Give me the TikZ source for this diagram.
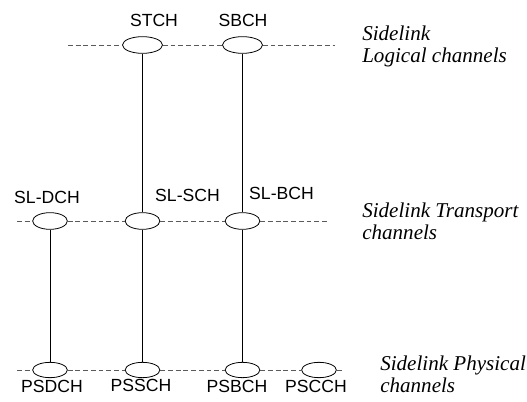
\documentclass[tikz,border=0pt]{standalone}
\usepackage{fontspec}
\setmainfont{Liberation Serif}
\setsansfont{Liberation Sans}
\usepackage{tikz}
\usetikzlibrary{positioning,shapes.geometric}
\definecolor{dashcolor}{RGB}{90,90,90}
\tikzset{
    channel/.style={ellipse, draw=black, line width=0.6pt, inner sep=0pt, fill=white},
    logical channel/.style={channel, minimum width=30pt, minimum height=12.5pt},
    transport channel/.style={channel, minimum width=26pt, minimum height=12.5pt},
    physical channel/.style={channel, minimum width=26pt, minimum height=11.5pt},
    channel label/.style={font=\sffamily\fontsize{13.2}{15}\selectfont, inner sep=0pt},
    layer label/.style={font=\itshape\fontsize{15.8}{16.5}\selectfont, align=left, anchor=base west, inner sep=0pt},
    layer line/.style={dashcolor, line width=0.6pt, dash pattern=on 3.6pt off 2.2pt},
    mapping/.style={black, line width=0.6pt}
}

\begin{document}
\begin{tikzpicture}[x=0.75pt, y=-0.75pt]
    \useasboundingbox (0,0) rectangle (527,402);

    % Logical channels
    \node[logical channel] (stch) at (142.5,45) {};
    \node[logical channel] (sbch) at (242.5,45) {};
    \coordinate (logL) at (68,45);
    \coordinate (logR) at (335,45);

    % Transport channels
    \node[transport channel] (sldch) at (50,221) {};
    \node[transport channel] (slsch) at (142.5,221) {};
    \node[transport channel] (slbch) at (242.5,221) {};
    \coordinate (trL) at (17,221);
    \coordinate (trR) at (327,221);

    % Physical channels
    \node[physical channel] (psdch) at (50,370) {};
    \node[physical channel] (pssch) at (142.5,370) {};
    \node[physical channel] (psbch) at (242.5,370) {};
    \node[physical channel] (pscch) at (319,370) {};
    \coordinate (phL) at (17,370);
    \coordinate (phR) at (343,370);

    % Dashed layer lines
    \draw[layer line] (logL) -- (stch.west);
    \draw[layer line] (stch.east) -- (sbch.west);
    \draw[layer line] (sbch.east) -- (logR);
    \draw[layer line] (trL) -- (sldch.west);
    \draw[layer line] (sldch.east) -- (slsch.west);
    \draw[layer line] (slsch.east) -- (slbch.west);
    \draw[layer line] (slbch.east) -- (trR);
    \draw[layer line] (phL) -- (psdch.west);
    \draw[layer line] (psdch.east) -- (pssch.west);
    \draw[layer line] (pssch.east) -- (psbch.west);
    \draw[layer line] (psbch.east) -- (pscch.west);
    \draw[layer line] (pscch.east) -- (phR);

    % Channel mapping
    \draw[mapping] (stch) -- (slsch);
    \draw[mapping] (slsch) -- (pssch);
    \draw[mapping] (sbch) -- (slbch);
    \draw[mapping] (slbch) -- (psbch);
    \draw[mapping] (sldch) -- (psdch);

    % Channel names
    \node[channel label] (stchname) at (154,20.5) {STCH};
    \node[channel label] (sbchname) at (243,20.5) {SBCH};
    \node[channel label] (sldchname) at (47,197.5) {SL-DCH};
    \node[channel label] (slschname) at (187.5,195) {SL-SCH};
    \node[channel label] (slbchname) at (281.5,193.5) {SL-BCH};
    \node[channel label] (psdchname) at (52,386) {PSDCH};
    \node[channel label] (psschname) at (141,385) {PSSCH};
    \node[channel label] (psbchname) at (237,386) {PSBCH};
    \node[channel label] (pscchname) at (316,386) {PSCCH};

    % Layer names
    \node[layer label] (loglabel) at (362,63) {Sidelink\\Logical channels};
    \node[layer label] (trlabel) at (362,239) {Sidelink Transport\\channels};
    \node[layer label] (phlabel) at (380,392) {Sidelink Physical\\channels};
\end{tikzpicture}
\end{document}
